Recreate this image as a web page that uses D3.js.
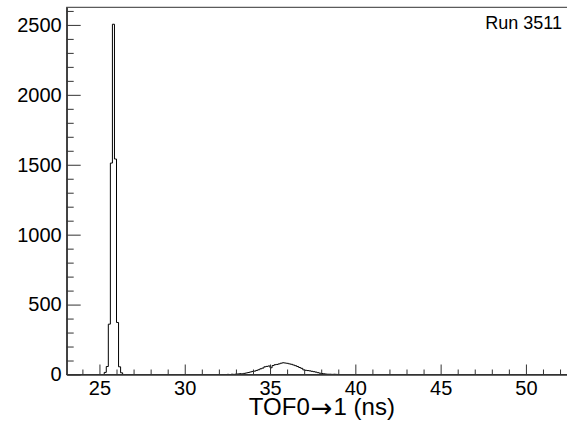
<!DOCTYPE html>
<html>
<head>
<meta charset="utf-8">
<script src="https://cdn.jsdelivr.net/npm/d3@7"></script>
<style>
  body { margin: 0; background: #fff; }
  svg { display: block; }
</style>
</head>
<body>
<div id="chart"></div>
<script>
// histogram bins (ns), counts
var binWidth = 0.12;
var peakStart = 25.28;
var peakCounts = [15, 57, 360, 1512, 2505, 1541, 372, 55, 12];
var bumpStart = 32.48;
var bumpCounts = [1, 0, 2, 1, 3, 4, 6, 5, 8, 11, 14, 18, 22, 24, 29, 34, 41, 46, 55, 58,
                  61, 48, 64, 70, 72, 76, 81, 84, 82, 80, 76, 73, 68, 63, 57, 50, 44, 33, 30, 28,
                  26, 23, 20, 17, 13, 9, 7, 5, 3, 2, 2, 1, 2, 1, 0];
var xMajor = [25, 30, 35, 40, 45, 50];
var xMinor = [24, 26, 27, 28, 29, 31, 32, 33, 34, 36, 37, 38, 39, 41, 42, 43, 44, 46, 47, 48, 49, 51, 52];
var yMajor = [0, 500, 1000, 1500, 2000, 2500];
var yMinor = [100, 200, 300, 400, 600, 700, 800, 900, 1100, 1200, 1300, 1400,
              1600, 1700, 1800, 1900, 2100, 2200, 2300, 2400, 2600];
var xTitle = ["TOF0", "\u2192", "1 (ns)"];
var runLabel = "Run 3511";

var width = 567, height = 425;
var font = "'Liberation Sans', Arial, sans-serif";

var svg = d3.select('#chart').append('svg')
  .attr('width', width)
  .attr('height', height);

var x = d3.scaleLinear().domain([23.08, 53.0]).range([66.7, 577.1]);
var y = d3.scaleLinear().domain([0, 2626]).range([374.5, 7.3]);

// step points for the whole histogram
function binsFrom(start, counts) {
  return counts.map(function(c, i) { return {lo: start + i * binWidth, n: c}; });
}
var bins = binsFrom(peakStart, peakCounts).concat(binsFrom(bumpStart, bumpCounts));
var pts = [{lo: x.domain()[0], n: 0}];
bins.forEach(function(b, i) {
  var prev = bins[i - 1];
  if (prev && Math.abs(prev.lo + binWidth - b.lo) > 1e-6) {
    pts.push({lo: prev.lo + binWidth, n: 0});
  }
  pts.push(b);
});
var last = bins[bins.length - 1];
pts.push({lo: last.lo + binWidth, n: 0});
pts.push({lo: x.domain()[1], n: 0});

var line = d3.line()
  .x(function(d) { return x(d.lo); })
  .y(function(d) { return y(d.n); })
  .curve(d3.curveStepAfter);

svg.append('path')
  .datum(pts)
  .attr('d', line)
  .attr('fill', 'none')
  .attr('stroke', '#000')
  .attr('stroke-width', 1);

// frame
svg.append('rect')
  .attr('x', x.range()[0])
  .attr('y', y.range()[1])
  .attr('width', x.range()[1] - x.range()[0])
  .attr('height', y.range()[0] - y.range()[1])
  .attr('fill', 'none')
  .attr('stroke', '#333')
  .attr('stroke-width', 1);

// x axis, ticks inward
var gx = svg.append('g').attr('transform', 'translate(0,' + y.range()[0] + ')');
gx.call(d3.axisBottom(x).tickValues(xMajor).tickSizeInner(-10).tickSizeOuter(0).tickPadding(6));
svg.append('g').attr('transform', 'translate(0,' + y.range()[0] + ')')
  .call(d3.axisBottom(x).tickValues(xMinor).tickSizeInner(-5).tickSizeOuter(0).tickFormat(''));

// y axis, ticks inward
var gy = svg.append('g').attr('transform', 'translate(' + x.range()[0] + ',0)');
gy.call(d3.axisLeft(y).tickValues(yMajor).tickSizeInner(-14).tickSizeOuter(0)
  .tickPadding(5).tickFormat(d3.format('d')));
svg.append('g').attr('transform', 'translate(' + x.range()[0] + ',0)')
  .call(d3.axisLeft(y).tickValues(yMinor).tickSizeInner(-7).tickSizeOuter(0).tickFormat(''));

svg.selectAll('.domain').attr('stroke', '#333');
svg.selectAll('.tick line').attr('stroke', '#333');
svg.selectAll('.tick text')
  .attr('font-family', font)
  .attr('font-size', 20)
  .attr('fill', '#000');

var title = svg.append('text')
  .attr('x', (x.range()[0] + x.range()[1]) / 2)
  .attr('y', 415)
  .attr('text-anchor', 'middle')
  .attr('font-family', font)
  .attr('font-size', 24);
title.append('tspan').text(xTitle[0]);
title.append('tspan')
  .attr('font-family', "'DejaVu Sans', sans-serif")
  .attr('font-size', 26)
  .attr('dx', 1)
  .attr('dy', 2)
  .text(xTitle[1]);
title.append('tspan').attr('dx', 1).attr('dy', -2).text(xTitle[2]);

svg.append('text')
  .attr('x', 562)
  .attr('y', 28.5)
  .attr('text-anchor', 'end')
  .attr('font-family', font)
  .attr('font-size', 18)
  .text(runLabel);
</script>
</body>
</html>
